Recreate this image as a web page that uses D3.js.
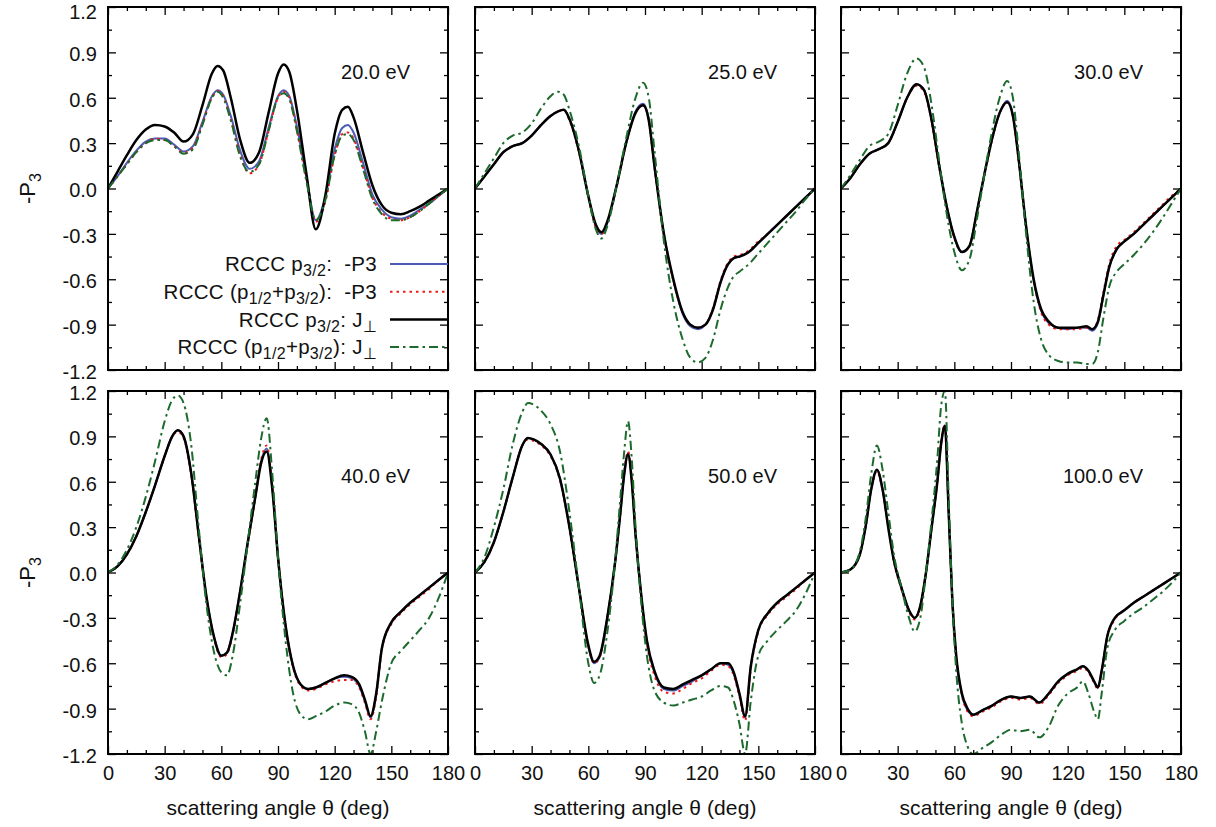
<!DOCTYPE html>
<html>
<head>
<meta charset="utf-8">
<script src="https://cdn.jsdelivr.net/npm/d3@7"></script>
<style>
  body { margin: 0; background: #fff; }
  text { font-family: "Liberation Sans", Arial, Helvetica, sans-serif; }
</style>
</head>
<body>
<div id="chart"></div>
<script>
// Panel labels (energies)
const energies = ["20.0 eV", "25.0 eV", "30.0 eV", "40.0 eV", "50.0 eV", "100.0 eV"];

// Tick values
const xTicks = [0, 30, 60, 90, 120, 150, 180];
const xMinor = [10, 20, 40, 50, 70, 80, 100, 110, 130, 140, 160, 170];
const yTicks = [-1.2, -0.9, -0.6, -0.3, 0.0, 0.3, 0.6, 0.9, 1.2];
const yMinor = [-1.05, -0.75, -0.45, -0.15, 0.15, 0.45, 0.75, 1.05];

// 20 eV
const theta20 = [0,5,10,15,20,25,30,35,40,45,50,55,58,61,65,70,75,80,85,90,93,96,100,105,110,115,120,124,127,130,135,140,145,150,155,160,165,170,175,180];
const blue20  = [0,0.08,0.17,0.25,0.31,0.33,0.33,0.29,0.245,0.28,0.44,0.61,0.65,0.62,0.48,0.25,0.13,0.18,0.4,0.61,0.65,0.61,0.41,0.08,-0.21,-0.06,0.26,0.4,0.42,0.37,0.17,-0.04,-0.14,-0.19,-0.2,-0.18,-0.14,-0.1,-0.05,0];
const red20   = [0,0.08,0.16,0.24,0.3,0.33,0.32,0.28,0.235,0.27,0.43,0.6,0.645,0.61,0.46,0.22,0.1,0.16,0.38,0.6,0.64,0.6,0.39,0.06,-0.22,-0.09,0.22,0.36,0.37,0.33,0.14,-0.06,-0.16,-0.2,-0.21,-0.19,-0.15,-0.1,-0.05,0];
const black20 = [0,0.11,0.22,0.32,0.39,0.42,0.41,0.37,0.31,0.36,0.55,0.76,0.81,0.78,0.6,0.32,0.17,0.24,0.5,0.76,0.82,0.77,0.52,0.1,-0.27,-0.05,0.36,0.52,0.54,0.47,0.24,0.02,-0.11,-0.16,-0.17,-0.15,-0.12,-0.08,-0.04,0];
const green20 = [0,0.08,0.16,0.24,0.3,0.32,0.32,0.28,0.23,0.26,0.42,0.6,0.64,0.6,0.45,0.21,0.11,0.16,0.38,0.6,0.63,0.59,0.38,0.05,-0.21,-0.08,0.22,0.35,0.36,0.32,0.13,-0.07,-0.17,-0.21,-0.21,-0.19,-0.15,-0.1,-0.05,0];

// 25 eV
const theta25 = [0,5,10,15,20,25,30,35,40,44,47,50,55,60,64,67,70,75,80,85,89,92,95,100,105,110,114,118,122,126,130,134,137,140,145,150,155,160,165,170,175,180];
const blue25  = [0,0.08,0.16,0.24,0.28,0.3,0.35,0.42,0.48,0.51,0.52,0.46,0.25,-0.05,-0.25,-0.3,-0.23,0.02,0.3,0.51,0.56,0.46,0.15,-0.3,-0.61,-0.83,-0.91,-0.93,-0.9,-0.8,-0.62,-0.5,-0.46,-0.45,-0.42,-0.36,-0.3,-0.24,-0.18,-0.12,-0.06,0];
const red25   = [0,0.08,0.16,0.24,0.28,0.3,0.35,0.42,0.48,0.51,0.52,0.45,0.24,-0.06,-0.26,-0.3,-0.23,0.01,0.3,0.5,0.55,0.45,0.14,-0.31,-0.61,-0.82,-0.9,-0.92,-0.9,-0.79,-0.61,-0.49,-0.45,-0.44,-0.41,-0.35,-0.3,-0.24,-0.18,-0.12,-0.06,0];
const black25 = [0,0.08,0.16,0.24,0.28,0.3,0.35,0.42,0.48,0.51,0.52,0.46,0.25,-0.05,-0.24,-0.29,-0.22,0.02,0.3,0.5,0.55,0.45,0.15,-0.3,-0.6,-0.82,-0.9,-0.92,-0.9,-0.8,-0.62,-0.5,-0.46,-0.45,-0.42,-0.36,-0.3,-0.24,-0.18,-0.12,-0.06,0];
const green25 = [0,0.1,0.2,0.3,0.35,0.37,0.43,0.53,0.61,0.64,0.62,0.52,0.28,-0.05,-0.27,-0.33,-0.25,0.02,0.33,0.6,0.7,0.6,0.25,-0.35,-0.75,-1.0,-1.12,-1.15,-1.12,-1.0,-0.8,-0.65,-0.58,-0.55,-0.5,-0.43,-0.36,-0.29,-0.22,-0.15,-0.07,0];

// 30 eV
const theta30 = [0,5,10,15,20,25,30,35,40,44,48,52,56,60,64,68,72,76,80,84,88,91,94,98,102,106,110,115,120,125,130,133,136,139,142,146,150,155,160,165,170,175,180];
const blue30  = [0,0.07,0.16,0.23,0.26,0.3,0.44,0.6,0.69,0.65,0.45,0.15,-0.12,-0.32,-0.42,-0.38,-0.15,0.1,0.33,0.5,0.58,0.49,0.2,-0.25,-0.61,-0.81,-0.89,-0.92,-0.93,-0.92,-0.92,-0.94,-0.89,-0.7,-0.52,-0.4,-0.35,-0.3,-0.24,-0.18,-0.12,-0.06,0];
const red30   = [0,0.07,0.16,0.23,0.26,0.3,0.44,0.6,0.68,0.64,0.44,0.14,-0.13,-0.33,-0.42,-0.38,-0.16,0.09,0.32,0.5,0.57,0.48,0.19,-0.26,-0.61,-0.82,-0.9,-0.93,-0.93,-0.93,-0.92,-0.93,-0.87,-0.68,-0.5,-0.38,-0.34,-0.29,-0.23,-0.17,-0.11,-0.05,0];
const black30 = [0,0.07,0.16,0.23,0.26,0.3,0.44,0.6,0.69,0.65,0.45,0.15,-0.12,-0.32,-0.42,-0.38,-0.15,0.1,0.33,0.5,0.57,0.48,0.2,-0.25,-0.6,-0.8,-0.88,-0.92,-0.92,-0.92,-0.91,-0.93,-0.88,-0.7,-0.52,-0.4,-0.35,-0.3,-0.24,-0.18,-0.12,-0.06,0];
const green30 = [0,0.09,0.19,0.28,0.31,0.36,0.55,0.76,0.86,0.8,0.55,0.18,-0.17,-0.42,-0.54,-0.47,-0.2,0.1,0.38,0.6,0.71,0.6,0.25,-0.3,-0.75,-1.0,-1.1,-1.14,-1.15,-1.15,-1.16,-1.16,-1.08,-0.85,-0.65,-0.55,-0.5,-0.44,-0.37,-0.29,-0.2,-0.1,0];

// 40 eV
const theta40 = [0,5,10,15,20,25,30,34,37,40,44,48,52,56,60,63,66,70,74,78,81,84,87,90,94,98,102,106,110,115,120,125,129,133,136,139,142,145,150,155,160,165,170,175,180];
const blue40  = [0,0.04,0.12,0.24,0.4,0.58,0.77,0.9,0.94,0.9,0.66,0.25,-0.15,-0.42,-0.55,-0.53,-0.4,-0.12,0.2,0.5,0.73,0.82,0.56,0.1,-0.35,-0.62,-0.74,-0.77,-0.76,-0.73,-0.7,-0.69,-0.7,-0.75,-0.85,-0.96,-0.8,-0.5,-0.33,-0.26,-0.2,-0.15,-0.1,-0.05,0];
const red40   = [0,0.04,0.12,0.24,0.4,0.58,0.77,0.9,0.93,0.89,0.65,0.24,-0.16,-0.43,-0.56,-0.54,-0.41,-0.13,0.19,0.5,0.74,0.84,0.57,0.1,-0.36,-0.63,-0.75,-0.78,-0.77,-0.74,-0.72,-0.71,-0.71,-0.76,-0.86,-0.97,-0.82,-0.51,-0.34,-0.27,-0.21,-0.16,-0.11,-0.05,0];
const black40 = [0,0.04,0.12,0.24,0.4,0.58,0.77,0.9,0.94,0.9,0.66,0.25,-0.15,-0.42,-0.55,-0.53,-0.4,-0.12,0.2,0.5,0.72,0.8,0.55,0.1,-0.35,-0.62,-0.74,-0.77,-0.76,-0.73,-0.7,-0.68,-0.69,-0.74,-0.84,-0.95,-0.8,-0.5,-0.33,-0.26,-0.2,-0.15,-0.1,-0.05,0];
const green40 = [0,0.05,0.15,0.3,0.5,0.74,1.0,1.14,1.17,1.12,0.85,0.3,-0.2,-0.52,-0.66,-0.68,-0.55,-0.2,0.2,0.6,0.88,1.02,0.65,0.1,-0.45,-0.8,-0.94,-0.97,-0.95,-0.92,-0.88,-0.86,-0.87,-0.93,-1.05,-1.2,-1.05,-0.85,-0.6,-0.52,-0.45,-0.38,-0.3,-0.17,0];

// 50 eV
const theta50 = [0,5,10,15,20,25,28,31,35,40,45,50,55,60,63,66,70,74,77,79,81,83,85,88,91,95,100,105,110,115,120,125,130,134,137,140,143,146,150,155,160,165,170,175,180];
const blue50  = [0,0.07,0.2,0.4,0.63,0.84,0.89,0.88,0.85,0.78,0.62,0.3,-0.1,-0.49,-0.6,-0.56,-0.3,0.05,0.4,0.65,0.79,0.61,0.25,-0.15,-0.46,-0.66,-0.77,-0.78,-0.75,-0.72,-0.68,-0.64,-0.6,-0.61,-0.67,-0.81,-0.96,-0.62,-0.38,-0.27,-0.2,-0.15,-0.1,-0.05,0];
const red50   = [0,0.07,0.2,0.4,0.63,0.84,0.88,0.87,0.84,0.77,0.61,0.29,-0.11,-0.49,-0.6,-0.56,-0.31,0.04,0.4,0.66,0.8,0.62,0.26,-0.15,-0.47,-0.68,-0.79,-0.8,-0.77,-0.73,-0.7,-0.65,-0.61,-0.62,-0.68,-0.82,-0.98,-0.64,-0.39,-0.28,-0.21,-0.16,-0.11,-0.05,0];
const black50 = [0,0.07,0.2,0.4,0.63,0.84,0.89,0.88,0.85,0.78,0.62,0.3,-0.1,-0.48,-0.59,-0.55,-0.3,0.05,0.4,0.65,0.78,0.6,0.25,-0.15,-0.45,-0.65,-0.76,-0.77,-0.74,-0.71,-0.68,-0.64,-0.6,-0.6,-0.66,-0.8,-0.95,-0.62,-0.38,-0.27,-0.2,-0.15,-0.1,-0.05,0];
const green50 = [0,0.1,0.3,0.55,0.85,1.06,1.12,1.11,1.07,0.98,0.8,0.4,-0.1,-0.6,-0.73,-0.68,-0.4,0.05,0.5,0.8,1.0,0.75,0.3,-0.2,-0.55,-0.78,-0.86,-0.88,-0.86,-0.84,-0.82,-0.78,-0.75,-0.76,-0.85,-1.0,-1.2,-0.85,-0.55,-0.45,-0.38,-0.32,-0.25,-0.14,0];

// 100 eV
const theta100 = [0,5,10,13,16,19,22,25,28,32,36,39,42,45,48,51,53,55,57,59,61,64,67,70,75,80,85,90,95,100,105,110,115,120,125,128,131,134,136,138,141,145,150,155,160,165,170,175,180];
const blue100  = [0,0.02,0.12,0.3,0.55,0.68,0.55,0.3,0.08,-0.1,-0.25,-0.3,-0.22,0.0,0.3,0.6,0.85,0.97,0.4,-0.2,-0.56,-0.81,-0.91,-0.94,-0.91,-0.88,-0.84,-0.82,-0.83,-0.82,-0.86,-0.8,-0.72,-0.67,-0.64,-0.62,-0.65,-0.72,-0.76,-0.65,-0.42,-0.3,-0.25,-0.2,-0.16,-0.12,-0.08,-0.04,0];
const red100   = [0,0.02,0.12,0.3,0.55,0.67,0.54,0.29,0.07,-0.11,-0.26,-0.31,-0.23,0.0,0.3,0.6,0.86,0.98,0.41,-0.2,-0.56,-0.81,-0.92,-0.95,-0.92,-0.89,-0.85,-0.83,-0.84,-0.83,-0.87,-0.81,-0.73,-0.68,-0.65,-0.63,-0.66,-0.73,-0.77,-0.66,-0.43,-0.31,-0.25,-0.2,-0.16,-0.12,-0.08,-0.04,0];
const black100 = [0,0.02,0.12,0.3,0.55,0.68,0.55,0.3,0.08,-0.1,-0.25,-0.3,-0.22,0.0,0.3,0.6,0.85,0.97,0.4,-0.2,-0.55,-0.8,-0.9,-0.94,-0.91,-0.88,-0.84,-0.82,-0.83,-0.82,-0.86,-0.8,-0.72,-0.67,-0.64,-0.62,-0.65,-0.72,-0.76,-0.65,-0.42,-0.3,-0.25,-0.2,-0.16,-0.12,-0.08,-0.04,0];
const green100 = [0,0.02,0.14,0.35,0.65,0.84,0.68,0.4,0.12,-0.1,-0.3,-0.39,-0.3,0.0,0.35,0.75,1.1,1.2,0.5,-0.2,-0.65,-1.0,-1.15,-1.2,-1.16,-1.12,-1.07,-1.04,-1.05,-1.04,-1.09,-1.02,-0.88,-0.8,-0.76,-0.72,-0.8,-0.92,-0.97,-0.8,-0.5,-0.38,-0.32,-0.27,-0.23,-0.18,-0.13,-0.07,0];

const panelData = [
  { theta: theta20, blue: blue20, red: red20, black: black20, green: green20 },
  { theta: theta25, blue: blue25, red: red25, black: black25, green: green25 },
  { theta: theta30, blue: blue30, red: red30, black: black30, green: green30 },
  { theta: theta40, blue: blue40, red: red40, black: black40, green: green40 },
  { theta: theta50, blue: blue50, red: red50, black: black50, green: green50 },
  { theta: theta100, blue: blue100, red: red100, black: black100, green: green100 }
];

// series styles, drawn in legend order
const series = [
  { key: "blue",  color: "#4a5cb4", width: 2,   dash: null },
  { key: "red",   color: "#f01818", width: 2,   dash: "2.5,4" },
  { key: "black", color: "#000000", width: 2.5, dash: null },
  { key: "green", color: "#1c6a2c", width: 2,   dash: "9,4,2.5,4" }
];

// layout
const W = 1216, H = 827;
const colLeft = [108, 475, 841];
const rowTop = [7, 391];
const pw = 340, ph = 363;
const labelDy = [65, 85];

const svg = d3.select("#chart").append("svg")
    .attr("width", W)
    .attr("height", H);

const x = d3.scaleLinear().domain([0, 180]).range([0, pw]);
const y = d3.scaleLinear().domain([-1.2, 1.2]).range([ph, 0]);

const fmtY = d => d.toFixed(1);

panelData.forEach((pd, i) => {
  const col = i % 3, row = Math.floor(i / 3);
  const g = svg.append("g")
      .attr("transform", `translate(${colLeft[col]},${rowTop[row]})`);

  g.append("clipPath").attr("id", "clip" + i)
    .append("rect").attr("width", pw).attr("height", ph);

  // minor ticks on all four sides
  const minorAxes = [
    [d3.axisBottom(x).tickValues(xMinor), `translate(0,${ph})`],
    [d3.axisTop(x).tickValues(xMinor), null],
    [d3.axisLeft(y).tickValues(yMinor), null],
    [d3.axisRight(y).tickValues(yMinor), `translate(${pw},0)`]
  ];
  minorAxes.forEach(([ax, tr]) => {
    const a = g.append("g").call(ax.tickSize(-4).tickFormat(""));
    if (tr) a.attr("transform", tr);
  });

  // major ticks; labels only on outer edges
  g.append("g").attr("transform", `translate(0,${ph})`)
      .call(d3.axisBottom(x).tickValues(xTicks).tickSize(-8).tickPadding(12)
        .tickFormat(row === 1 ? d3.format("d") : ""));
  g.append("g").call(d3.axisTop(x).tickValues(xTicks).tickSize(-8).tickFormat(""));
  const yl = g.append("g")
      .call(d3.axisLeft(y).tickValues(yTicks).tickSize(-8).tickPadding(11)
        .tickFormat(col === 0 ? fmtY : ""));
  yl.selectAll(".tick text").attr("dy", "0.42em");
  // keep the topmost label inside the page
  if (row === 0) yl.selectAll(".tick text").filter(d => d === 1.2).attr("dy", "0.56em");
  g.append("g").attr("transform", `translate(${pw},0)`)
      .call(d3.axisRight(y).tickValues(yTicks).tickSize(-8).tickFormat(""));

  g.selectAll(".domain").remove();
  g.selectAll(".tick line").attr("stroke", "#000").attr("stroke-width", 1.3);
  g.selectAll(".tick text").attr("font-size", 20).attr("fill", "#111")
      .style("font-family", '"Liberation Sans", Arial, sans-serif');

  // curves
  const curves = g.append("g").attr("clip-path", `url(#clip${i})`);
  series.forEach(s => {
    const pts = pd.theta.map((t, k) => [t, pd[s.key][k]]);
    const line = d3.line()
        .x(d => x(d[0]))
        .y(d => y(d[1]))
        .curve(d3.curveMonotoneX);
    curves.append("path")
        .attr("d", line(pts))
        .attr("fill", "none")
        .attr("stroke", s.color)
        .attr("stroke-width", s.width)
        .attr("stroke-dasharray", s.dash)
        .attr("stroke-linejoin", "round");
  });

  // frame
  g.append("rect")
      .attr("width", pw).attr("height", ph)
      .attr("fill", "none").attr("stroke", "#000").attr("stroke-width", 2);

  // energy label
  g.append("text")
      .attr("x", pw - 38)
      .attr("y", labelDy[row])
      .attr("dy", "0.35em")
      .attr("text-anchor", "end")
      .attr("font-size", 20)
      .attr("fill", "#111")
      .text(energies[i]);

  // axis titles
  if (col === 0) {
    const t = g.append("text")
        .attr("transform", `translate(-81,${ph / 2}) rotate(-90)`)
        .attr("text-anchor", "middle")
        .attr("dy", "0.35em")
        .attr("font-size", 22)
        .attr("fill", "#111");
    t.append("tspan").text("-P");
    t.append("tspan").attr("font-size", 16).attr("dy", 6).text("3");
  }
  if (row === 1) {
    g.append("text")
        .attr("x", pw / 2)
        .attr("y", ph + 54)
        .attr("dy", "0.35em")
        .attr("text-anchor", "middle")
        .attr("font-size", 21)
        .attr("letter-spacing", 0.1)
        .attr("fill", "#111")
        .text("scattering angle θ (deg)");
  }

  // legend in the first panel
  if (i === 0) {
    const legendRows = [
      [["RCCC p", 0], ["3/2", 1], [":  -P3", 0]],
      [["RCCC (p", 0], ["1/2", 1], ["+p", 0], ["3/2", 1], ["):  -P3", 0]],
      [["RCCC p", 0], ["3/2", 1], [": J", 0], ["⊥", 1]],
      [["RCCC (p", 0], ["1/2", 1], ["+p", 0], ["3/2", 1], ["): J", 0], ["⊥", 1]]
    ];
    const lg = g.append("g");
    legendRows.forEach((parts, r) => {
      const ly = 257 + r * 27.7;
      const s = series[r];
      lg.append("line")
          .attr("x1", 282).attr("x2", pw)
          .attr("y1", ly).attr("y2", ly)
          .attr("stroke", s.color)
          .attr("stroke-width", s.width)
          .attr("stroke-dasharray", s.dash);
      const t = lg.append("text")
          .attr("x", 269).attr("y", ly)
          .attr("dy", "0.35em")
          .attr("text-anchor", "end")
          .attr("font-size", 20.5)
          .attr("letter-spacing", 0.3)
          .attr("xml:space", "preserve")
          .style("white-space", "pre")
          .attr("fill", "#111");
      let low = false;
      parts.forEach(([str, sub]) => {
        const sp = t.append("tspan").text(str);
        if (sub && !low) { sp.attr("dy", 5).attr("font-size", 16); low = true; }
        else if (sub) { sp.attr("font-size", 16); }
        else if (low) { sp.attr("dy", -5); low = false; }
      });
    });
  }
});
</script>
</body>
</html>
